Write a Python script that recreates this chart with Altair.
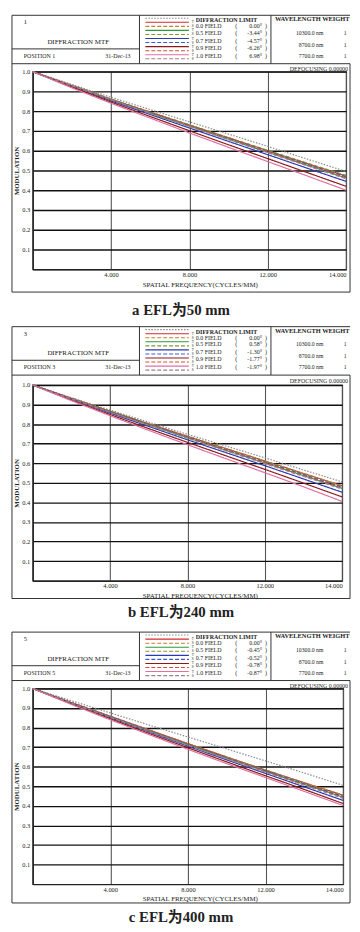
import altair as alt
import pandas as pd

# ---------------- data ----------------
FREQ = [0, 2, 4, 6, 8, 10, 12, 14, 16]
SERIES = ["DL", "0.0T", "0.0S", "0.5T", "0.5S", "0.7T", "0.7S", "0.9T", "0.9S", "1.0T", "1.0S"]

# panel a (EFL 50 mm)
A_DL = [1.00, .935, .870, .808, .746, .684, .622, .558, .495]
A_T00 = [1.00, .930, .860, .795, .730, .665, .600, .535, .472]
A_S00 = [1.00, .930, .860, .795, .730, .665, .600, .535, .472]
A_T05 = [1.00, .928, .857, .790, .724, .658, .592, .527, .462]
A_S05 = [1.00, .930, .861, .796, .731, .666, .602, .538, .475]
A_T07 = [1.00, .925, .852, .783, .715, .647, .580, .512, .445]
A_S07 = [1.00, .929, .859, .793, .727, .662, .597, .532, .468]
A_T09 = [1.00, .922, .846, .773, .701, .630, .560, .490, .420]
A_S09 = [1.00, .929, .858, .791, .725, .659, .594, .528, .463]
A_T10 = [1.00, .918, .840, .765, .690, .617, .545, .473, .400]
A_S10 = [1.00, .928, .857, .789, .722, .656, .590, .524, .458]

# panel b (EFL 240 mm)
B_DL = [1.00, .935, .872, .810, .748, .688, .628, .566, .505]
B_T00 = [1.00, .932, .866, .802, .738, .675, .612, .548, .485]
B_S00 = [1.00, .932, .866, .802, .738, .675, .612, .548, .485]
B_T05 = [1.00, .930, .862, .796, .731, .666, .602, .537, .472]
B_S05 = [1.00, .932, .866, .801, .737, .673, .610, .546, .482]
B_T07 = [1.00, .927, .856, .788, .720, .654, .588, .520, .452]
B_S07 = [1.00, .931, .864, .799, .734, .670, .606, .542, .478]
B_T09 = [1.00, .923, .849, .777, .707, .638, .569, .499, .428]
B_S09 = [1.00, .930, .862, .796, .731, .667, .603, .538, .473]
B_T10 = [1.00, .920, .843, .768, .695, .623, .552, .480, .405]
B_S10 = [1.00, .929, .860, .794, .728, .663, .598, .533, .468]

# panel c (EFL 400 mm)
C_DL = [1.00, .937, .875, .813, .752, .691, .630, .568, .505]
C_T00 = [1.00, .928, .858, .788, .718, .650, .583, .518, .455]
C_S00 = [1.00, .928, .858, .788, .718, .650, .583, .518, .455]
C_T05 = [1.00, .926, .854, .783, .712, .644, .576, .510, .445]
C_S05 = [1.00, .928, .857, .787, .717, .649, .582, .516, .452]
C_T07 = [1.00, .924, .850, .777, .705, .635, .566, .497, .428]
C_S07 = [1.00, .927, .856, .785, .715, .646, .579, .513, .448]
C_T09 = [1.00, .921, .845, .770, .697, .625, .554, .484, .412]
C_S09 = [1.00, .926, .854, .783, .712, .643, .575, .509, .443]
C_T10 = [1.00, .918, .840, .764, .689, .616, .545, .474, .402]
C_S10 = [1.00, .925, .852, .780, .709, .640, .572, .505, .438]

FIELDS = ["0.0", "0.5", "0.7", "0.9", "1.0"]
A_ANGLES = ["0.00", "-3.44", "-4.57", "-6.26", "6.98"]
B_ANGLES = ["0.00", "0.58", "-1.30", "-1.77", "-1.97"]
C_ANGLES = ["0.00", "-0.45", "-0.52", "-0.78", "-0.87"]
WAVELENGTHS = ["10300.0 nm", "8700.0 nm", "7700.0 nm"]
WEIGHTS = ["1", "1", "1"]
CONFIG_NUMS = ["1", "3", "5"]
POSITIONS = ["POSITION 1", "POSITION 3", "POSITION 5"]
DATE = "31-Dec-13"
CAPTIONS = ["a  EFL为50 mm", "b  EFL为240 mm", "c  EFL为400 mm"]
X_TICKS = [4, 8, 12, 16]
X_TICK_LABELS = ["4.000", "8.000", "12.000", "14.000"]
Y_TICKS = [0.1, 0.2, 0.3, 0.4, 0.5, 0.6, 0.7, 0.8, 0.9, 1.0]

# ---------------- styles ----------------
SERIF = "Liberation Serif"
CAPFONT = "'Liberation Serif', 'Noto Sans CJK SC'"
INK = "#222222"
COLORS = ["#8a8a8a", "#d42a2a", "#d07a30", "#2e9a3a", "#7f9a2a", "#2a3ab0", "#3a5ad0",
          "#8a1a1a", "#d05030", "#e070a0", "#a08090"]
DASHES = [[1.5, 1.5], [1, 0], [4, 2], [1, 0], [4, 2], [1, 0], [4, 2], [1, 0], [4, 2], [1, 0], [4, 2]]

OX = 31
GEOM = [
    dict(oy=65, h=200, w=317, top=8, b=57, fb=288, cap=306),
    dict(oy=382, h=198, w=313, top=323, b=372, fb=598, cap=612),
    dict(oy=689, h=198, w=314, top=632, b=681, fb=906, cap=920),
]
ONE = alt.Data(values=[{"k": 0}])


def hrule(x1, x2, y, color=INK, width=1.0, dash=None):
    kw = dict(color=color, strokeWidth=width)
    if dash:
        kw["strokeDash"] = dash
    return alt.Chart(ONE).mark_rule(**kw).encode(x=alt.value(x1), x2=alt.value(x2), y=alt.value(y))


def vrule(x, y1, y2, color=INK, width=1.0):
    return alt.Chart(ONE).mark_rule(color=color, strokeWidth=width).encode(
        x=alt.value(x), y=alt.value(y1), y2=alt.value(y2))


def label(s, x, y, size, align="left", weight="normal", font=SERIF, limit=None, color=INK):
    kw = dict(text=s, align=align, baseline="middle", fontSize=size, font=font,
              fontWeight=weight, color=color)
    if limit:
        kw.update(limit=limit, ellipsis="")
    return alt.Chart(ONE).mark_text(**kw).encode(x=alt.value(x), y=alt.value(y))


def make_panel(k, values, angles):
    g = GEOM[k]
    oy = g["oy"]
    X = lambda px: px - OX
    Y = lambda py: py - oy
    rows = []
    for name, vals in zip(SERIES, values):
        for f, v in zip(FREQ, vals):
            rows.append({"freq": f, "mtf": v, "series": name})
    df = pd.DataFrame(rows)
    label_expr = " : ".join(f"datum.value == {t} ? '{l}'" for t, l in zip(X_TICKS, X_TICK_LABELS)) + " : ''"

    lines = alt.Chart(df).mark_line(strokeWidth=1.2).encode(
        x=alt.X("freq:Q", scale=alt.Scale(domain=[0, 16], nice=False),
                axis=alt.Axis(values=X_TICKS, labelExpr=label_expr,
                              title="SPATIAL FREQUENCY(CYCLES/MM)", ticks=False,
                              grid=True, gridColor="#555555", gridWidth=1.1,
                              domainColor=INK, domainWidth=1.4,
                              labelFont=SERIF, labelFontSize=6.5, labelColor=INK,
                              labelPadding=2, labelFlush=True,
                              titleFont=SERIF, titleFontSize=7, titleFontWeight="normal",
                              titleColor=INK, titleX=169, titleY=15,
                              titleBaseline="middle", titleAlign="center")),
        y=alt.Y("mtf:Q", scale=alt.Scale(domain=[0, 1], nice=False),
                axis=alt.Axis(values=Y_TICKS, format=".1f", title="MODULATION", ticks=False,
                              grid=True, gridColor="#111111", gridWidth=1.4,
                              domainColor=INK, domainWidth=1.4,
                              labelFont=SERIF, labelFontSize=6.5, labelColor=INK,
                              labelPadding=3,
                              titleFont=SERIF, titleFontSize=7, titleFontWeight="bold",
                              titleColor=INK, titleX=-16, titleY=g["h"] / 2,
                              titleAngle=270, titleBaseline="middle", titleAlign="center")),
        color=alt.Color("series:N", scale=alt.Scale(domain=SERIES, range=COLORS), legend=None),
        strokeDash=alt.StrokeDash("series:N", scale=alt.Scale(domain=SERIES, range=DASHES), legend=None),
    )

    B = g["b"]
    top = g["top"]
    fb = g["fb"]
    deco = [
        hrule(X(10), X(352), Y(top), "#333333"),
        hrule(X(10), X(352), Y(B), "#333333"),
        hrule(X(10), X(352), Y(fb), "#333333"),
        vrule(X(10), Y(top), Y(fb), "#333333"),
        vrule(X(352), Y(B), Y(fb), "#333333"),
        vrule(X(139), Y(top), Y(B), "#333333"),
        vrule(X(272), Y(top), Y(B), "#333333"),
        hrule(X(10), X(139), Y(B - 15), "#333333"),
        label(CONFIG_NUMS[k], X(22), Y(B - 42), 6.5),
        label("DIFFRACTION MTF", X(77), Y(B - 22), 7, align="center"),
        label(POSITIONS[k], X(22), Y(B - 8), 6),
        label(DATE, X(130), Y(B - 8), 6, align="right"),
        label("DIFFRACTION LIMIT", X(196), Y(B - 44), 6, weight="bold"),
        label("WAVELENGTH WEIGHT", X(276), Y(B - 45), 6.5, weight="bold", limit=352 - 276),
        label("DEFOCUSING 0.00000", X(350), Y(B + 5.5), 6, align="right"),
        label(CAPTIONS[k], X(181), Y(g["cap"]), 15, align="center", font=CAPFONT, weight="bold"),
    ]
    for i in range(11):
        yy = Y(B - 46 + 4.1 * i)
        deco.append(hrule(X(145), X(189), yy, COLORS[i], 1.1, DASHES[i]))
        if i > 0:
            deco.append(label("T" if i % 2 == 1 else "S", X(192), yy, 3.5))
    field_y = [B - 38, B - 31, B - 23, B - 16, B - 8]
    for fld, ang, fy in zip(FIELDS, angles, field_y):
        deco.append(label(fld + " FIELD", X(196), Y(fy), 6))
        deco.append(label("(", X(236), Y(fy), 6))
        deco.append(label(ang + "°", X(263), Y(fy), 6, align="right"))
        deco.append(label(")", X(266), Y(fy), 6))
    for wl, wt, wy in zip(WAVELENGTHS, WEIGHTS, [B - 31, B - 19, B - 8]):
        deco.append(label(wl, X(325), Y(wy), 5.8, align="right"))
        deco.append(label(wt, X(347), Y(wy), 5.8, align="center"))

    return alt.layer(lines, *deco).properties(width=g["w"], height=g["h"])


pa = make_panel(0, [A_DL, A_T00, A_S00, A_T05, A_S05, A_T07, A_S07, A_T09, A_S09, A_T10, A_S10], A_ANGLES)
pb = make_panel(1, [B_DL, B_T00, B_S00, B_T05, B_S05, B_T07, B_S07, B_T09, B_S09, B_T10, B_S10], B_ANGLES)
pc = make_panel(2, [C_DL, C_T00, C_S00, C_T05, C_S05, C_T07, C_S07, C_T09, C_S09, C_T10, C_S10], C_ANGLES)

s1 = GEOM[1]["oy"] - (GEOM[0]["oy"] + GEOM[0]["h"])
s2 = GEOM[2]["oy"] - (GEOM[1]["oy"] + GEOM[1]["h"])

chart = alt.vconcat(
    pa,
    alt.vconcat(pb, pc, spacing=s2, bounds="flush"),
    spacing=s1, bounds="flush",
).properties(
    padding={"left": 2, "top": 0, "right": 0, "bottom": 0}
).configure_view(stroke=INK, strokeWidth=1.2)

chart.save("out.html", embed_options={"renderer": "svg", "actions": False})
